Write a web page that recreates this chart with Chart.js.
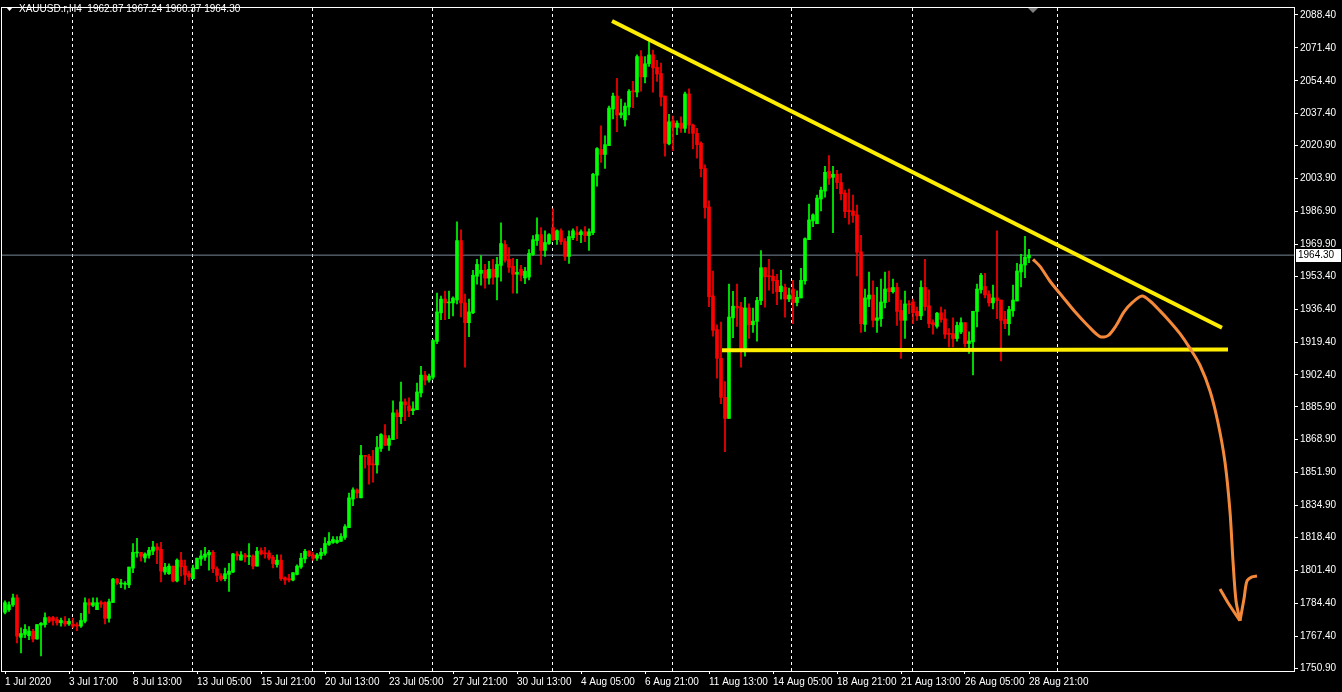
<!DOCTYPE html>
<html>
<head>
<meta charset="utf-8">
<title>XAUUSD H4</title>
<script src="https://cdn.jsdelivr.net/npm/chart.js@4.4.0/dist/chart.umd.min.js"></script>
<style>
  html, body { margin: 0; padding: 0; background: #000; }
  #wrap { width: 1342px; height: 692px; }
</style>
</head>
<body>
<div id="wrap"><canvas id="goldChart"></canvas></div>
<script>
// XAUUSD.r H4 candles, 1 Jul 2020 01:00 .. 28 Aug 2020 21:00 (bar index = position)
const opens = [
  1779.7,1781.1,1783.6,1787.2,1766.8,1768.3,1767.6,1770.0,1765.9,1773.1,1773.4,1777.0,1777.0,1776.0,1774.3,1775.1,1773.7,1773.6,1773.2,1772.6,
  1775.1,1784.7,1783.3,1781.1,1784.8,1784.8,1776.6,1784.8,1796.9,1794.4,1794.2,1793.9,1802.6,1810.4,1810.7,1807.8,1809.2,1811.3,1813.5,1812.3,
  1800.5,1799.7,1803.6,1795.9,1806.7,1803.6,1799.7,1797.1,1802.2,1807.3,1808.2,1809.4,1810.7,1802.2,1798.5,1797.1,1799.3,1800.5,1809.9,1806.7,
  1809.4,1808.5,1808.9,1803.6,1811.6,1810.4,1810.4,1808.2,1804.4,1806.7,1797.6,1797.1,1796.4,1799.3,1803.1,1807.3,1811.3,1809.4,1807.7,1809.0,
  1810.2,1814.8,1815.8,1815.8,1816.4,1818.4,1823.5,1838.3,1843.0,1838.9,1860.8,1860.3,1856.2,1855.9,1864.4,1871.1,1866.0,1869.0,1882.8,1880.8,
  1888.5,1886.4,1883.9,1884.4,1893.1,1902.3,1899.7,1901.2,1919.7,1934.5,1941.6,1939.6,1939.6,1941.1,1971.8,1939.6,1929.4,1934.5,1953.4,1954.9,
  1956.5,1952.4,1957.0,1952.9,1959.0,1969.8,1962.1,1958.5,1954.4,1957.0,1952.5,1953.0,1964.6,1971.8,1974.9,1966.7,1970.3,1978.5,1972.3,1976.9,
  1971.3,1963.6,1973.3,1975.9,1974.9,1976.4,1974.4,1975.9,2005.6,2018.9,2016.3,2020.9,2039.8,2046.5,2036.7,2034.2,2040.8,2049.0,2048.5,2066.9,
  2056.4,2063.2,2067.8,2061.3,2058.1,2046.5,2021.8,2033.7,2030.3,2032.5,2029.8,2047.6,2031.5,2027.2,2022.1,2009.0,1989.2,1943.2,1925.8,1911.0,
  1890.8,1879.9,1931.9,1937.9,1937.4,1916.1,1937.0,1928.3,1930.1,1940.8,1957.8,1953.4,1953.4,1951.3,1945.4,1947.6,1941.6,1946.8,1939.8,1942.2,
  1951.0,1972.3,1982.0,1980.5,1993.3,1997.4,2007.6,2004.5,2006.1,2001.8,1996.4,1987.1,1987.1,1985.1,1966.0,1928.5,1941.6,1943.7,1930.6,1931.4,
  1939.8,1947.3,1945.4,1947.6,1935.7,1930.6,1939.1,1940.1,1935.2,1932.9,1947.6,1938.1,1929.4,1927.5,1934.5,1931.4,1923.7,1923.7,1921.2,1924.6,
  1929.4,1918.6,1919.5,1935.2,1946.4,1948.1,1944.2,1939.6,1942.2,1941.1,1931.1,1928.9,1935.5,1940.6,1955.6,1959.2,1962.87
];
const highs = [
  1785.7,1785.2,1789.1,1788.8,1771.7,1773.4,1772.4,1770.9,1773.4,1774.4,1779.5,1777.5,1777.7,1777.3,1776.8,1777.5,1776.5,1776.8,1774.4,1779.2,
  1787.2,1786.7,1787.2,1787.2,1785.7,1785.2,1786.5,1797.3,1797.3,1796.8,1795.6,1803.1,1815.3,1817.9,1810.7,1810.4,1813.3,1816.4,1815.3,1815.9,
  1805.1,1804.8,1803.6,1807.3,1810.7,1806.7,1801.0,1804.1,1807.7,1811.6,1813.3,1811.8,1811.6,1803.2,1799.7,1802.6,1805.1,1810.2,1811.1,1811.1,
  1810.2,1815.3,1809.4,1813.3,1813.0,1813.3,1811.6,1809.2,1809.4,1809.4,1798.1,1799.3,1800.2,1804.3,1810.2,1812.3,1811.6,1810.7,1810.2,1812.8,
  1818.4,1820.9,1818.9,1818.9,1820.4,1825.0,1841.4,1844.0,1843.5,1866.0,1860.8,1861.4,1863.4,1870.6,1872.1,1876.7,1871.1,1889.0,1884.4,1898.7,
  1890.0,1890.5,1888.5,1898.2,1906.9,1904.3,1902.8,1920.7,1944.7,1943.2,1945.7,1945.7,1942.7,1981.5,1977.4,1944.2,1941.6,1956.5,1962.1,1964.1,
  1959.5,1961.1,1962.1,1963.1,1981.0,1971.8,1968.2,1962.6,1962.1,1959.0,1958.0,1967.2,1974.4,1983.6,1978.5,1976.9,1975.4,1988.2,1977.4,1977.9,
  1972.8,1976.9,1977.9,1979.0,1977.4,1979.0,1977.9,2006.6,2019.9,2031.1,2026.0,2041.3,2048.0,2055.7,2044.9,2043.0,2049.9,2054.1,2067.8,2070.0,
  2066.9,2074.6,2070.3,2064.9,2063.5,2046.5,2037.1,2036.2,2033.7,2035.7,2048.5,2050.2,2032.0,2029.8,2022.9,2011.0,1992.3,1956.1,1928.3,1929.7,
  1899.0,1949.3,1945.6,1949.3,1939.9,1942.5,1939.1,1937.0,1942.5,1966.7,1957.8,1962.1,1956.8,1954.4,1956.5,1949.3,1947.3,1951.3,1945.9,1957.5,
  1973.3,1990.7,1985.6,1995.3,1999.4,2010.2,2015.8,2010.2,2008.1,2006.4,1997.9,1998.4,1995.3,1990.2,1974.5,1946.8,1955.6,1951.0,1947.6,1951.9,
  1955.6,1956.1,1951.9,1949.8,1941.1,1945.7,1940.8,1941.6,1937.4,1951.0,1962.1,1946.4,1930.9,1934.8,1937.4,1936.2,1926.3,1931.9,1929.7,1931.9,
  1929.4,1924.6,1935.3,1949.3,1954.9,1954.9,1945.9,1948.8,1976.9,1941.1,1935.2,1937.9,1948.8,1960.1,1964.7,1974.0,1967.24
];
const lows = [
  1778.9,1780.2,1782.8,1763.9,1758.8,1766.6,1765.6,1764.4,1765.9,1757.2,1772.0,1774.4,1773.1,1773.1,1772.6,1772.6,1772.9,1771.7,1770.2,1771.9,
  1774.3,1779.2,1782.6,1781.1,1782.3,1773.7,1774.6,1784.8,1794.2,1792.5,1791.7,1792.5,1800.2,1808.2,1806.1,1805.6,1807.7,1809.5,1804.8,1795.4,
  1799.3,1799.3,1795.4,1795.4,1798.5,1794.2,1796.2,1796.8,1802.2,1803.9,1806.5,1801.5,1800.2,1795.6,1795.9,1795.9,1790.5,1800.2,1806.7,1806.7,
  1805.8,1804.4,1802.2,1803.6,1809.4,1807.7,1806.8,1802.7,1803.1,1796.2,1794.2,1795.4,1795.9,1799.0,1802.4,1805.3,1808.5,1806.5,1806.5,1807.2,
  1809.2,1814.3,1815.3,1815.3,1816.4,1817.4,1823.5,1834.8,1838.9,1838.9,1854.2,1846.0,1847.0,1851.6,1862.9,1866.0,1863.4,1869.0,1869.5,1877.2,
  1878.7,1880.8,1881.8,1884.4,1891.0,1897.2,1898.7,1900.2,1918.6,1930.9,1930.9,1931.4,1932.9,1939.1,1932.4,1906.4,1922.2,1934.0,1949.3,1948.8,
  1947.2,1949.3,1949.3,1941.1,1950.8,1960.6,1955.4,1944.7,1944.7,1951.0,1949.5,1951.5,1964.1,1969.3,1959.5,1963.6,1969.8,1971.8,1969.8,1969.8,
  1961.6,1960.0,1972.3,1971.8,1970.8,1971.3,1966.7,1974.9,1999.9,2012.2,2009.1,2020.9,2034.7,2028.1,2035.2,2031.0,2036.8,2040.5,2046.0,2049.0,
  2053.3,2061.8,2048.5,2054.1,2041.4,2015.4,2021.2,2018.3,2026.5,2027.7,2027.7,2027.2,2019.2,2014.4,2004.7,1983.4,1937.7,1922.4,1900.7,1887.6,
  1862.7,1879.9,1921.7,1927.5,1906.4,1912.1,1921.2,1924.3,1919.8,1938.7,1937.4,1946.2,1944.5,1938.7,1941.6,1932.3,1940.3,1928.9,1938.1,1942.2,
  1949.3,1972.3,1979.0,1980.5,1987.2,1994.3,2000.9,1975.9,1998.7,1992.8,1983.7,1980.3,1981.2,1953.6,1924.4,1924.9,1937.7,1927.2,1924.4,1927.5,
  1937.0,1940.3,1944.7,1928.0,1910.9,1921.2,1934.0,1928.9,1930.6,1930.9,1935.7,1926.8,1923.4,1926.6,1929.7,1921.2,1916.9,1916.9,1919.8,1923.7,
  1916.9,1913.5,1902.4,1927.2,1944.7,1942.2,1937.9,1936.5,1931.4,1909.6,1926.3,1922.9,1932.6,1940.6,1947.9,1952.7,1960.37
];
const closes = [
  1784.7,1783.6,1787.2,1767.4,1768.8,1770.9,1770.0,1765.9,1773.4,1774.1,1777.0,1775.1,1775.5,1774.3,1775.5,1773.7,1775.1,1772.6,1772.7,1775.5,
  1784.7,1783.5,1784.7,1784.7,1784.0,1776.6,1785.2,1796.9,1794.9,1794.7,1794.7,1803.1,1810.7,1810.9,1808.7,1809.9,1811.8,1813.5,1811.9,1801.0,
  1803.1,1803.6,1795.9,1806.7,1803.2,1799.0,1798.0,1802.6,1807.7,1808.9,1809.9,1810.7,1802.2,1798.8,1796.8,1799.7,1801.0,1809.9,1808.9,1809.4,
  1808.2,1808.9,1803.6,1811.3,1809.9,1809.9,1807.7,1804.8,1806.7,1797.1,1796.4,1796.4,1800.2,1803.6,1807.7,1811.3,1809.0,1807.7,1809.4,1810.7,
  1815.3,1816.4,1817.4,1816.9,1818.9,1824.0,1838.9,1843.0,1841.4,1860.8,1860.3,1855.9,1855.9,1864.9,1871.6,1866.0,1869.5,1882.8,1880.8,1888.5,
  1886.9,1883.9,1884.9,1893.6,1902.3,1899.7,1901.8,1920.2,1935.0,1941.6,1939.6,1940.1,1942.1,1971.8,1939.6,1929.4,1935.0,1953.9,1959.5,1956.5,
  1952.4,1957.0,1952.9,1959.5,1970.3,1961.6,1958.0,1954.4,1955.4,1953.9,1956.0,1965.2,1972.3,1974.9,1966.7,1970.8,1974.9,1972.3,1976.9,1971.3,
  1963.6,1973.9,1976.9,1974.9,1976.4,1974.4,1976.4,2006.1,2019.4,2016.3,2021.4,2040.3,2046.5,2036.7,2037.8,2041.3,2049.0,2048.7,2066.9,2056.4,
  2063.2,2067.8,2061.0,2057.9,2046.0,2022.1,2033.2,2030.3,2032.5,2029.8,2047.6,2031.5,2027.2,2021.4,2009.0,1988.9,1942.8,1925.4,1911.0,1890.8,
  1879.9,1932.3,1937.9,1937.0,1916.1,1937.0,1928.3,1930.2,1940.9,1957.8,1953.1,1953.1,1951.0,1945.4,1948.3,1941.6,1943.7,1939.8,1942.5,1951.3,
  1972.8,1982.5,1985.1,1993.8,1997.9,2007.1,2004.0,2006.1,2001.8,1996.0,1986.8,1986.8,1984.8,1965.8,1928.9,1942.2,1943.7,1930.6,1931.9,1940.1,
  1946.8,1945.4,1947.6,1935.2,1930.6,1939.1,1938.6,1934.6,1932.9,1947.6,1937.7,1928.9,1928.3,1934.3,1931.0,1923.4,1923.4,1921.2,1928.0,1929.4,
  1918.6,1920.0,1935.3,1946.8,1953.9,1943.7,1939.6,1942.2,1940.8,1930.6,1928.9,1936.2,1941.1,1956.1,1959.5,1963.3,1964.30
];

// time axis labels every 16 bars
const timeLabelBars = [0, 16, 32, 48, 64, 80, 96, 112, 128, 144, 160, 176, 192, 208, 224, 240, 256];
const timeLabels = ['1 Jul 2020', '3 Jul 17:00', '8 Jul 13:00', '13 Jul 05:00', '15 Jul 21:00', '20 Jul 13:00',
  '23 Jul 05:00', '27 Jul 21:00', '30 Jul 13:00', '4 Aug 05:00', '6 Aug 21:00', '11 Aug 13:00',
  '14 Aug 05:00', '18 Aug 21:00', '21 Aug 13:00', '26 Aug 05:00', '28 Aug 21:00'];
// weekly period separators (between Friday and Monday bars)
const weekSeparators = [16.75, 46.75, 76.75, 106.75, 136.75, 166.75, 196.75, 226.75, 263.0];
const priceTicks = [2088.40, 2071.40, 2054.40, 2037.40, 2020.90, 2003.90, 1986.90, 1969.90, 1953.40, 1936.40,
  1919.40, 1902.40, 1885.90, 1868.90, 1851.90, 1834.90, 1818.40, 1801.40, 1784.40, 1767.40, 1750.90];
const bidPrice = 1964.30;

// hand-drawn analysis: [bar, price]
const resistanceLine = [[151.75, 2085.3], [304.25, 1926.8]];
const supportLine = [[179.25, 1915.1], [305.75, 1915.5]];
const forecastPath = [[257.0, 1962.1], [258.75, 1958.5], [261.25, 1950.8], [264.25, 1943.2], [267.5, 1935.0],
  [270.75, 1927.8], [273.75, 1922.2], [275.75, 1922.7], [277.75, 1927.8], [279.75, 1935.0], [282.0, 1940.1],
  [284.25, 1943.2], [286.25, 1940.6], [288.75, 1935.5], [291.25, 1929.9], [293.75, 1923.7], [296.25, 1916.1],
  [298.75, 1907.4], [301.25, 1894.1], [303.25, 1877.7], [305.0, 1857.3], [306.25, 1831.7], [307.0, 1806.1],
  [307.75, 1785.7], [308.75, 1775.4]];
const arrowLeft = [[303.75, 1791.8], [305.75, 1784.7], [308.75, 1775.4]];
const arrowRight = [[308.75, 1775.4], [309.75, 1786.7], [310.5, 1795.9], [311.75, 1798.0], [313.0, 1798.5]];

const UP = '#00ff00';
const DOWN = '#ff0000';
const FONT = { family: 'Liberation Sans', size: 10 };

const candleColors = closes.map((c, i) => c >= opens[i] ? UP : DOWN);
const wickData = lows.map((l, i) => ({ x: i, y: [l, highs[i]] }));
const bodyData = opens.map((o, i) => ({ x: i, y: [o, closes[i]] }));
const toPoints = arr => arr.map(p => ({ x: p[0], y: p[1] }));

const X_MIN = -0.75, X_MAX = 322.25;

// frame, header text and bid price label
const chartDecor = {
  id: 'chartDecor',
  beforeDraw(chart) {
    const ctx = chart.ctx;
    ctx.save();
    ctx.fillStyle = '#000';
    ctx.fillRect(0, 0, chart.width, chart.height);
    ctx.restore();
  },
  afterDraw(chart) {
    const ctx = chart.ctx;
    const a = chart.chartArea;
    const y = chart.scales.y;
    const x = chart.scales.x;
    ctx.save();
    ctx.strokeStyle = '#ffffff';
    ctx.lineWidth = 1;
    ctx.strokeRect(a.left - 0.5, a.top - 0.5, a.right - a.left + 1, a.bottom - a.top + 1);

    // header
    ctx.fillStyle = '#ffffff';
    ctx.beginPath();
    ctx.moveTo(6, 7); ctx.lineTo(13, 7); ctx.lineTo(9.5, 11); ctx.closePath();
    ctx.fill();
    ctx.font = '10px "Liberation Sans"';
    ctx.textBaseline = 'middle';
    ctx.fillText('XAUUSD.r,H4  ' + opens[opens.length - 1].toFixed(2) + ' ' + highs[highs.length - 1].toFixed(2) + ' ' +
      lows[lows.length - 1].toFixed(2) + ' ' + closes[closes.length - 1].toFixed(2), 19, 9);

    // chart shift marker
    const sx = x.getPixelForValue(257);
    ctx.fillStyle = '#808080';
    ctx.beginPath();
    ctx.moveTo(sx - 5, a.top); ctx.lineTo(sx + 5, a.top); ctx.lineTo(sx, a.top + 5); ctx.closePath();
    ctx.fill();

    // bid label
    const by = Math.round(y.getPixelForValue(bidPrice));
    ctx.fillStyle = '#ffffff';
    ctx.fillRect(a.right + 2, by - 6, 45, 13);
    ctx.fillStyle = '#000000';
    ctx.fillText(bidPrice.toFixed(2), a.right + 4, by + 0.5);
    ctx.restore();
  }
};

const ctx = document.getElementById('goldChart').getContext('2d');
const goldChart = new Chart(ctx, {
  type: 'bar',
  data: {
    datasets: [
      {
        label: 'wicks',
        data: wickData,
        backgroundColor: candleColors,
        barThickness: 1,
        grouped: false,
        order: 3
      },
      {
        label: 'bodies',
        data: bodyData,
        backgroundColor: candleColors,
        barThickness: 3,
        minBarLength: 1,
        grouped: false,
        order: 2
      },
      {
        type: 'line',
        label: 'bid',
        data: [{ x: X_MIN, y: bidPrice }, { x: X_MAX, y: bidPrice }],
        borderColor: '#778899',
        borderWidth: 1,
        pointRadius: 0,
        order: 4
      },
      {
        type: 'line',
        label: 'resistance',
        data: toPoints(resistanceLine),
        borderColor: '#ffee00',
        borderWidth: 4,
        pointRadius: 0,
        order: 1
      },
      {
        type: 'line',
        label: 'support',
        data: toPoints(supportLine),
        borderColor: '#ffee00',
        borderWidth: 4,
        pointRadius: 0,
        order: 1
      },
      {
        type: 'line',
        label: 'forecast',
        data: toPoints(forecastPath),
        borderColor: '#f5893a',
        borderWidth: 3,
        tension: 0.3,
        pointRadius: 0,
        order: 0
      },
      {
        type: 'line',
        label: 'arrowL',
        data: toPoints(arrowLeft),
        borderColor: '#f5893a',
        borderWidth: 3,
        tension: 0.3,
        pointRadius: 0,
        order: 0
      },
      {
        type: 'line',
        label: 'arrowR',
        data: toPoints(arrowRight),
        borderColor: '#f5893a',
        borderWidth: 3,
        tension: 0.3,
        pointRadius: 0,
        order: 0
      }
    ]
  },
  options: {
    responsive: true,
    maintainAspectRatio: false,
    animation: false,
    events: [],
    layout: { padding: { left: 2, top: 1, right: 0, bottom: 0 } },
    plugins: {
      legend: { display: false },
      tooltip: { enabled: false }
    },
    scales: {
      x: {
        type: 'linear',
        position: 'bottom',
        offset: false,
        min: X_MIN,
        max: X_MAX,
        afterBuildTicks: scale => { scale.ticks = timeLabelBars.map(v => ({ value: v })); },
        afterFit: scale => { scale.height = 21; },
        ticks: {
          color: '#ffffff',
          font: FONT,
          align: 'start',
          maxRotation: 0,
          autoSkip: false,
          padding: 2,
          callback: v => timeLabels[timeLabelBars.indexOf(v)]
        },
        grid: { drawOnChartArea: false, offset: false, color: '#ffffff', tickLength: 3 },
        border: { display: false }
      },
      sep: {
        type: 'linear',
        position: 'bottom',
        offset: false,
        min: X_MIN,
        max: X_MAX,
        afterBuildTicks: scale => { scale.ticks = weekSeparators.map(v => ({ value: v })); },
        afterFit: scale => { scale.height = 0; },
        ticks: { display: false },
        grid: { color: '#ffffff', offset: false, lineWidth: 1, drawTicks: false },
        border: { display: false, dash: [3, 3] }
      },
      y: {
        position: 'right',
        min: 1749.4,
        max: 2092.0,
        afterBuildTicks: scale => { scale.ticks = priceTicks.map(v => ({ value: v })); },
        afterFit: scale => { scale.width = 48; },
        ticks: {
          color: '#ffffff',
          font: FONT,
          padding: 2,
          callback: v => v.toFixed(2)
        },
        grid: { drawOnChartArea: false, color: '#ffffff', tickLength: 4 },
        border: { display: false }
      }
    }
  },
  plugins: [chartDecor]
});
</script>
</body>
</html>
